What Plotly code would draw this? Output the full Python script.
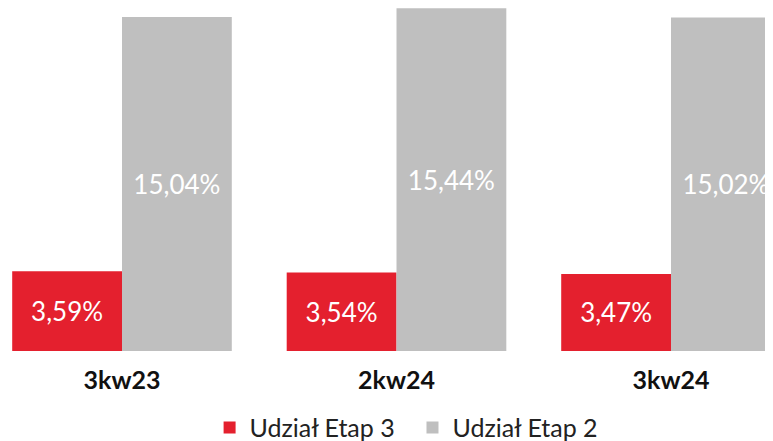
import plotly.graph_objects as go

categories = ["3kw23", "2kw24", "3kw24"]
etap3 = [3.59, 3.54, 3.47]
etap2 = [15.04, 15.44, 15.02]
name3 = "Udział Etap 3"
name2 = "Udział Etap 2"

def fmt(v):
    return f"{v:.2f}".replace(".", ",") + "%"

FONT = "Lato"
fig = go.Figure()
fig.add_trace(go.Bar(
    x=categories, y=etap3, name=name3 + "\u00a0\u00a0", marker_color="#E4202E",
    text=[fmt(v) for v in etap3], textposition="inside", insidetextanchor="middle",
    textfont=dict(color="white", size=26, family=FONT), marker_line_width=0,
))
fig.add_trace(go.Bar(
    x=categories, y=etap2, name=name2, marker_color="#BFBFBF",
    text=[fmt(v) for v in etap2], textposition="inside", insidetextanchor="middle",
    textfont=dict(color="white", size=26, family=FONT), marker_line_width=0,
))
fig.update_layout(
    width=773, height=441,
    margin=dict(l=0, r=0, t=0, b=98, autoexpand=False),
    barmode="group", bargap=0.2, bargroupgap=0,
    plot_bgcolor="white", paper_bgcolor="white",
    font=dict(family=FONT, size=24, color="#222222"),
    uniformtext=dict(mode="show", minsize=10),
    legend=dict(orientation="h", x=0.515, xanchor="center", xref="container",
                y=0.048, yanchor="middle", yref="container",
                font=dict(size=25, color="#222222"), itemwidth=30, tracegroupgap=0),
    showlegend=True,
)
fig.update_xaxes(range=[-0.4153, 2.4007], showgrid=False, showline=False, ticks="",
                 automargin=False,
                 tickfont=dict(size=25, color="#111111", family=FONT),
                 ticklabelstandoff=12)
fig.update_yaxes(range=[0, 15.45], visible=False)
fig.update_xaxes(tickvals=categories, ticktext=[f"<b>{c}</b>" for c in categories])
fig.write_html("out.html")
